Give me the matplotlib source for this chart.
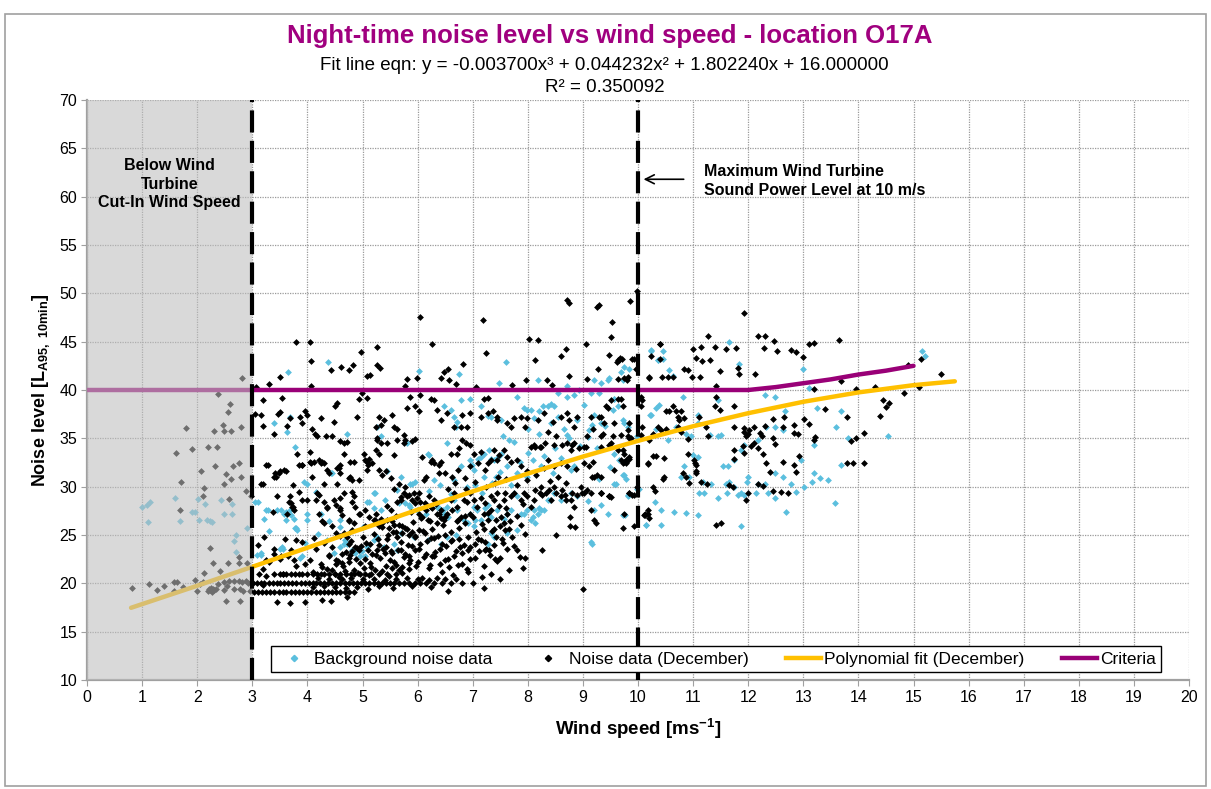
import matplotlib
matplotlib.use("Agg")
import matplotlib.pyplot as plt
from matplotlib.patches import Rectangle
from matplotlib.lines import Line2D

plt.rcParams['font.family'] = ['Liberation Sans', 'DejaVu Sans']
plt.rcParams['mathtext.fontset'] = 'custom'
plt.rcParams['mathtext.rm'] = 'Liberation Sans'
plt.rcParams['mathtext.bf'] = 'Liberation Sans:bold'

# ---- data --------------------------------------------------------------
# noise data (December), wind speed below the 3 m/s cut-in
noise_below_cutin = [
    (2.81, 41.2), (2.38, 39.6), (2.6, 38.6), (2.56, 37.7), (2.47, 36.4), (2.48, 35.8),
    (2.62, 35.8), (2.3, 35.8), (2.79, 36.2), (1.79, 36.1), (1.62, 33.5), (1.9, 33.9),
    (2.19, 34.1), (2.36, 34.1), (2.32, 32.1), (2.65, 32.1), (2.76, 32.5), (2.07, 31.6),
    (2.53, 31.3), (2.61, 30.8), (2.8, 31.0), (2.49, 30.3), (1.71, 30.5), (2.13, 29.9),
    (2.1, 29.0), (1.69, 27.6), (2.57, 28.7), (2.89, 29.6), (2.97, 29.0), (2.24, 23.7),
    (2.28, 22.1), (2.12, 21.1), (2.41, 21.3), (2.56, 22.1), (2.75, 22.7), (2.9, 22.1),
    (2.75, 22.1), (1.58, 20.1), (1.63, 20.1), (1.12, 19.9), (1.27, 19.3), (1.4, 19.7),
    (0.82, 19.5), (1.96, 20.3), (2.05, 19.9), (1.75, 19.6), (1.58, 19.2), (2.21, 19.4),
    (2.25, 19.5), (2.3, 19.3), (2.34, 19.4), (2.27, 19.1), (2.37, 19.9), (2.48, 20.1),
    (2.54, 19.7), (2.66, 19.4), (2.78, 19.4), (2.84, 19.2), (2.96, 19.2), (2.98, 20.1),
    (2.92, 20.0), (2.66, 20.2), (2.75, 20.2), (2.81, 20.1), (2.89, 20.2), (2.48, 19.3),
    (2.57, 20.2), (1.99, 19.2), (2.1, 20.1), (2.53, 18.2), (2.77, 18.2), (2.2, 19.25),
    (2.23, 19.35), (2.28, 19.45),
]

# noise data, 3-10 m/s, above the 40 dB criteria
noise_above_40 = [
    (3.8, 45.0), (4.04, 45.0), (4.07, 43.0), (4.42, 42.1), (4.61, 42.4), (4.76, 42.1),
    (4.83, 42.6), (3.5, 41.3), (4.07, 40.4), (4.98, 43.9), (5.27, 44.4), (5.27, 42.6),
    (5.31, 42.3), (5.08, 41.5), (5.13, 41.6), (6.04, 47.6), (6.27, 44.8), (5.8, 41.1),
    (5.78, 40.4), (5.99, 41.2), (6.42, 41.2), (6.48, 41.9), (6.56, 42.2), (6.57, 41.0),
    (6.69, 40.6), (6.82, 42.7), (7.19, 47.2), (7.25, 43.8), (7.06, 40.3), (7.72, 40.5),
    (7.97, 41.0), (8.03, 45.3), (8.19, 45.2), (8.13, 43.1), (8.35, 41.0), (8.44, 40.5),
    (8.6, 43.5), (8.69, 44.2), (8.72, 49.3), (8.74, 49.0), (8.74, 41.5), (9.05, 44.8),
    (9.08, 41.1), (9.25, 48.6), (9.3, 48.8), (9.27, 42.2), (9.48, 43.6), (9.52, 47.0),
    (9.51, 45.5), (9.63, 43.1), (9.67, 43.3), (9.71, 43.2), (9.64, 41.1), (9.81, 41.3),
    (9.86, 49.2), (9.98, 50.2), (9.9, 43.2), (9.66, 43.1), (9.62, 42.9), (9.75, 41.2),
    (9.8, 41.0), (9.93, 43.2), (9.96, 42.2), (3.06, 40.3), (3.3, 40.6),
]

# noise data, 3-10 m/s, 30-40 dB
noise_30_40 = [
    (3.05, 37.5), (3.15, 37.4), (3.19, 39.0), (3.19, 36.3), (3.39, 35.4), (3.46, 37.5),
    (3.51, 37.7), (3.54, 39.2), (3.63, 36.3), (3.68, 37.1), (3.86, 37.2), (3.9, 36.6),
    (3.96, 37.8), (3.99, 37.4), (4.08, 36.0), (4.13, 35.4), (4.18, 35.2), (4.24, 37.1),
    (4.33, 35.2), (4.45, 35.2), (4.48, 36.7), (4.54, 38.7), (4.5, 38.3), (4.9, 37.2),
    (4.93, 39.1), (5.08, 39.2), (4.99, 39.7), (5.24, 36.2), (5.27, 35.0), (5.33, 36.4),
    (5.39, 36.9), (5.3, 37.2), (5.54, 37.4), (5.57, 36.2), (5.63, 36.0), (5.75, 35.3),
    (5.81, 38.1), (5.87, 39.3), (5.96, 38.3), (6.02, 37.8), (6.05, 39.5), (6.24, 39.1),
    (6.3, 39.0), (6.36, 37.9), (6.42, 36.9), (6.54, 37.6), (6.66, 36.2), (6.78, 36.2),
    (6.9, 36.2), (6.81, 37.4), (6.96, 37.6), (7.15, 37.2), (7.27, 37.6), (7.21, 39.1),
    (7.28, 39.2), (7.37, 37.8), (7.45, 37.2), (7.45, 36.9), (7.63, 36.6), (7.69, 36.2),
    (7.75, 37.1), (7.87, 37.2), (7.95, 36.2), (7.99, 37.1), (8.18, 36.9), (8.3, 37.6),
    (8.36, 35.7), (8.45, 36.7), (8.51, 35.2), (8.6, 37.2), (8.72, 37.6), (8.75, 36.9),
    (8.84, 36.2), (8.9, 37.2), (9.08, 35.2), (9.15, 37.2), (9.18, 36.0), (9.3, 37.2),
    (9.33, 35.2), (9.45, 38.1), (9.63, 39.1), (9.69, 39.1), (9.72, 38.3), (9.81, 35.9),
    (9.84, 35.0), (9.51, 39.0), (9.42, 38.3), (9.33, 37.2), (9.39, 36.6), (9.36, 35.5),
    (9.57, 36.6), (9.84, 36.6), (9.81, 35.2), (9.87, 35.0), (9.54, 35.2), (9.69, 35.3),
    (3.24, 32.2), (3.42, 31.4), (3.51, 31.6), (3.57, 31.7), (3.39, 31.0), (3.15, 30.3),
    (3.81, 33.4), (3.84, 32.2), (3.9, 32.2), (4.05, 33.6), (4.05, 32.6), (4.24, 32.4),
    (4.21, 32.8), (4.08, 31.0), (4.3, 30.3), (4.36, 31.7), (4.54, 31.9), (4.59, 31.4),
    (4.54, 30.3), (4.6, 34.7), (4.66, 34.5), (4.72, 34.6), (4.66, 33.4), (4.78, 32.6),
    (4.81, 30.7), (4.93, 30.7), (5.05, 32.8), (5.1, 32.2), (5.08, 31.7), (5.24, 33.8),
    (5.3, 33.4), (5.27, 34.8), (5.33, 34.5), (5.45, 34.5), (5.57, 33.3), (5.63, 34.8),
    (5.75, 34.5), (5.78, 34.8), (5.9, 34.7), (5.96, 34.9), (6.12, 30.7), (6.15, 31.0),
    (6.24, 32.6), (6.3, 32.4), (6.39, 31.4), (6.42, 32.6), (6.6, 33.4), (6.72, 33.4),
    (6.75, 34.0), (6.81, 34.8), (6.87, 34.5), (6.96, 34.3), (6.96, 32.1), (7.02, 33.4),
    (7.15, 33.6), (7.27, 32.4), (7.33, 32.8), (7.39, 33.8), (7.45, 32.8), (7.48, 33.3),
    (7.57, 33.8), (7.63, 33.1), (7.69, 32.6), (7.81, 32.8), (7.87, 32.1), (7.99, 30.7),
    (8.05, 34.1), (8.12, 34.3), (8.24, 34.1), (8.3, 31.9), (8.36, 32.8), (8.48, 32.1),
    (8.6, 32.4), (8.72, 32.1), (8.78, 33.8), (8.84, 34.5), (9.02, 34.1), (9.18, 32.6),
    (9.21, 31.0), (9.33, 34.1), (9.51, 34.5), (9.63, 33.8), (9.69, 32.8), (9.75, 32.6),
    (9.78, 32.4), (9.48, 34.3), (9.75, 33.4), (9.72, 32.4), (9.78, 32.6), (9.84, 32.9),
    (9.99, 30.0), (3.28, 32.2), (3.43, 31.0), (3.49, 31.4), (3.61, 31.6), (3.19, 30.3),
    (3.73, 30.2), (3.91, 32.2), (4.06, 32.4), (4.12, 32.6), (4.27, 32.6), (4.3, 32.4),
    (4.39, 31.4), (4.57, 31.9), (4.6, 32.2), (4.75, 30.9), (4.78, 31.0), (4.84, 32.6),
    (5.02, 33.4), (5.08, 32.6), (5.11, 32.9), (5.17, 32.4), (5.3, 31.7), (5.36, 31.2),
    (5.42, 31.6), (5.51, 30.9), (5.66, 30.3), (5.78, 30.0), (6.08, 33.1), (6.26, 32.8),
    (6.38, 32.2), (6.5, 31.4), (6.62, 31.0), (6.74, 31.7), (6.86, 30.9), (7.46, 31.0),
    (7.22, 31.7), (7.1, 32.4), (8.13, 34.1), (8.23, 34.1), (8.32, 34.5), (8.47, 34.3),
    (8.62, 34.3), (8.71, 34.5), (8.8, 34.3), (8.93, 34.0), (9.05, 34.1), (9.11, 32.1),
    (9.17, 31.0), (9.26, 31.2), (9.32, 31.0), (9.57, 31.7), (9.78, 32.8), (9.72, 33.8),
    (9.84, 33.1), (8.24, 30.0), (8.96, 30.0),
]

# noise data, 3-10 m/s, below 30 dB (dense cluster)
noise_below_30 = [
    (3.45, 29.0), (3.69, 29.0), (3.72, 27.9), (3.75, 27.6), (3.63, 27.2), (3.99, 28.6),
    (4.18, 29.3), (4.15, 28.6), (4.21, 27.2), (4.36, 27.9), (4.48, 28.6), (4.6, 28.8),
    (4.66, 29.3), (4.81, 29.5), (4.84, 29.0), (4.6, 27.6), (4.75, 26.6), (4.84, 26.2),
    (4.96, 27.2), (5.05, 27.6), (5.21, 26.6), (5.33, 26.7), (5.45, 26.6), (5.51, 27.6),
    (5.63, 28.4), (5.69, 28.6), (5.75, 29.3), (5.81, 29.0), (5.93, 29.3), (5.99, 28.8),
    (6.02, 27.2), (6.08, 26.9), (6.15, 27.6), (6.18, 26.6), (6.24, 27.9), (6.3, 28.6),
    (6.36, 27.2), (6.42, 27.6), (6.48, 26.6), (6.54, 27.2), (6.6, 28.6), (6.66, 29.3),
    (6.72, 27.9), (6.78, 26.9), (6.84, 28.6), (6.9, 28.4), (6.96, 29.3), (7.02, 28.6),
    (7.08, 27.9), (7.15, 28.8), (7.21, 27.2), (7.27, 26.6), (7.33, 27.6), (7.39, 28.6),
    (7.45, 29.3), (7.57, 28.6), (7.63, 27.2), (7.69, 29.0), (7.75, 29.3), (7.87, 28.6),
    (7.93, 29.3), (7.99, 29.0), (8.05, 27.9), (8.12, 28.6), (8.33, 29.3), (8.42, 28.6),
    (8.51, 29.3), (8.6, 29.0), (8.69, 28.6), (8.78, 28.6), (8.84, 27.9), (9.02, 29.3),
    (9.15, 27.6), (9.21, 26.6), (9.33, 29.3), (9.48, 29.0), (9.75, 27.2), (9.84, 29.3),
    (9.93, 25.9), (9.72, 25.7), (9.33, 29.3), (9.48, 29.0), (9.9, 29.1),
    (3.85, 29.5), (3.91, 28.6), (3.67, 28.4), (3.73, 27.9), (3.7, 28.3), (3.37, 27.4),
    (3.22, 24.8), (3.4, 23.6), (3.79, 24.5), (3.76, 22.4), (3.25, 22.4), (3.52, 22.8),
    (3.13, 21.0), (3.19, 19.8), (4.21, 29.1), (4.3, 28.4), (4.36, 27.8), (4.51, 28.1),
    (4.6, 27.8), (4.81, 28.4), (4.87, 27.9), (4.93, 27.2), (4.63, 27.1), (4.75, 26.4),
    (4.27, 26.4), (4.3, 26.2), (4.45, 25.9), (4.51, 25.2), (4.66, 25.2), (4.72, 24.8),
    (4.81, 25.5), (4.93, 23.4), (4.81, 23.3), (4.39, 22.8), (4.51, 22.4), (4.63, 22.1),
    (4.75, 22.2), (4.27, 21.7), (4.45, 21.4), (4.75, 24.1), (4.87, 23.8), (4.12, 24.7),
    (5.57, 29.8), (5.84, 29.1), (5.9, 28.6), (5.96, 28.3), (6.02, 29.3), (5.11, 26.9),
    (5.23, 26.6), (5.3, 25.9), (5.36, 26.2), (5.48, 25.7), (5.54, 26.4), (5.6, 25.3),
    (5.66, 26.0), (5.72, 25.2), (5.78, 25.7), (5.84, 25.0), (5.9, 25.3), (5.96, 24.8),
    (6.02, 25.5), (5.14, 24.1), (5.27, 23.4), (5.42, 23.8), (5.54, 23.1), (5.69, 23.4),
    (5.84, 22.8), (5.96, 23.4), (5.54, 21.6), (5.72, 21.7), (5.84, 22.1), (6.14, 28.3),
    (6.26, 27.8), (6.38, 27.2), (6.5, 26.9), (6.62, 27.6), (6.74, 26.6), (6.86, 26.2),
    (6.95, 27.2), (6.14, 25.2), (6.29, 24.7), (6.44, 24.1), (6.62, 24.5), (6.77, 23.8),
    (6.92, 23.4), (7.04, 24.1), (6.26, 22.8), (6.5, 22.4), (6.74, 21.9), (6.92, 21.2),
    (7.16, 20.7), (7.34, 21.0), (7.22, 23.4), (7.43, 24.8), (7.58, 25.5), (7.52, 26.9),
    (7.22, 28.3), (7.34, 29.0), (7.58, 29.3),
    (3.1, 24.0), (3.2, 21.5), (3.3, 22.2), (3.4, 23.0), (3.5, 22.5), (3.55, 21.0),
    (3.65, 22.8), (3.7, 23.5), (3.8, 21.8), (3.9, 24.3), (3.95, 22.0), (3.6, 24.6),
    (3.25, 20.8), (4.05, 22.4), (4.1, 21.2), (4.15, 23.6), (4.25, 22.0), (4.3, 24.2),
    (4.35, 21.5), (4.4, 22.9), (4.45, 23.8), (4.5, 21.0), (4.55, 22.3), (4.6, 24.9),
    (4.65, 21.8), (4.7, 23.2), (4.75, 22.6), (4.8, 24.4), (4.85, 21.4), (4.9, 23.7),
    (4.95, 22.1), (4.2, 20.6), (4.58, 20.7), (5.0, 24.8), (5.05, 22.5), (5.1, 23.4),
    (5.15, 21.7), (5.2, 25.1), (5.25, 22.9), (5.3, 24.0), (5.35, 21.3), (5.4, 23.1),
    (5.45, 24.6), (5.5, 22.4), (5.55, 25.3), (5.6, 21.9), (5.65, 23.5), (5.7, 24.3),
    (5.75, 22.7), (5.8, 25.6), (5.85, 21.5), (5.9, 23.9), (5.95, 24.9), (5.12, 20.9),
    (5.48, 20.8), (5.72, 21.1), (5.58, 26.0), (5.35, 25.8), (6.0, 22.2), (6.05, 24.1),
    (6.1, 25.4), (6.15, 23.0), (6.2, 21.6), (6.25, 24.7), (6.3, 22.8), (6.35, 26.2),
    (6.4, 23.6), (6.45, 21.2), (6.5, 25.0), (6.55, 22.5), (6.6, 24.4), (6.65, 20.9),
    (6.7, 23.3), (6.75, 25.7), (6.8, 22.0), (6.85, 24.0), (6.9, 21.5), (6.95, 23.8),
    (6.22, 26.5), (6.08, 20.6), (6.42, 26.8), (7.05, 22.6), (7.1, 24.6), (7.2, 21.8),
    (7.3, 23.5), (7.35, 25.4), (7.45, 22.3), (7.55, 24.2), (7.65, 21.4), (7.75, 23.9),
    (7.85, 22.7), (7.95, 25.1), (7.5, 20.5), (8.25, 23.4), (8.52, 25.0), (7.95, 22.6),
    (7.92, 21.6), (7.8, 23.4), (7.62, 23.6), (7.5, 22.6), (7.4, 22.5), (7.25, 23.6),
    (7.15, 24.5), (7.2, 25.6), (9.0, 19.4), (9.23, 26.2), (8.77, 25.9), (8.85, 25.8),
    (7.38, 25.6), (7.5, 25.9), (7.56, 26.2), (7.65, 25.6), (8.13, 29.7), (8.23, 29.3),
    (8.38, 29.7), (8.47, 30.0), (8.62, 29.7), (8.68, 29.1), (8.8, 29.3), (8.9, 29.1),
    (8.99, 29.3), (9.08, 29.7), (9.14, 29.3), (9.51, 28.9), (9.84, 29.3), (9.93, 29.1),
    (8.77, 26.9), (8.26, 29.1), (9.33, 29.3), (9.48, 29.0),
    (3.45, 18.1), (3.68, 18.0), (3.96, 18.1), (4.27, 18.3), (4.42, 18.2), (4.72, 18.6),
]

# more of the dense December cluster between 4.5 and 9 m/s
noise_cluster = [
    (4.52, 22.0), (4.62, 23.0), (4.68, 21.3), (4.78, 22.9), (4.88, 22.5), (4.92, 21.1),
    (4.98, 23.9), (5.02, 21.6), (5.07, 24.2), (5.13, 22.1), (5.18, 23.0), (5.22, 21.4),
    (5.28, 24.6), (5.32, 22.6), (5.38, 23.6), (5.42, 21.8), (5.47, 25.0), (5.52, 23.3),
    (5.57, 22.2), (5.62, 24.8), (5.67, 21.4), (5.71, 25.9), (5.77, 23.0), (5.82, 24.0),
    (5.87, 22.4), (5.92, 26.3), (5.97, 21.8), (6.03, 23.6), (6.07, 26.8), (6.12, 22.7),
    (6.17, 24.4), (6.22, 21.9), (6.27, 25.6), (6.32, 23.2), (6.37, 24.9), (6.41, 22.0),
    (6.46, 26.0), (6.52, 23.9), (6.57, 21.7), (6.61, 25.3), (6.66, 22.8), (6.71, 26.4),
    (6.76, 24.6), (6.81, 23.1), (6.86, 27.0), (6.91, 24.8), (6.96, 22.5), (7.01, 26.9),
    (7.06, 25.3), (7.11, 23.3), (7.17, 26.1), (7.23, 24.3), (7.28, 27.3), (7.32, 22.9),
    (7.38, 24.0), (7.42, 26.6), (7.48, 28.0), (7.53, 24.6), (7.6, 27.8), (7.67, 26.5),
    (7.72, 24.8), (7.8, 27.0), (7.88, 26.0), (7.92, 28.2), (5.05, 25.9), (5.25, 27.2),
    (5.45, 28.0), (5.6, 27.0), (5.7, 28.9), (5.88, 27.4), (6.05, 28.4), (6.2, 29.0),
    (6.33, 28.2), (6.56, 29.8), (6.68, 30.4), (6.88, 29.8), (7.05, 30.5), (7.25, 30.0),
    (7.4, 30.4), (7.6, 30.8), (7.8, 30.2), (7.98, 31.6), (8.15, 31.2), (8.4, 30.6),
    (8.55, 31.0), (8.7, 30.4), (8.88, 31.8), (9.02, 32.5), (4.4, 20.5), (4.62, 20.4),
    (4.8, 20.6), (5.0, 20.4), (5.2, 20.5), (5.4, 20.3), (5.6, 20.5), (5.8, 20.6),
    (6.0, 20.4), (6.2, 20.3), (6.35, 20.6), (6.5, 20.5), (6.7, 20.4), (4.1, 19.6),
    (4.3, 19.7), (4.5, 19.6), (4.7, 19.5), (4.9, 19.6), (5.1, 19.4), (5.3, 19.7),
    (5.55, 19.5), (5.9, 19.7), (6.25, 19.6), (6.55, 19.2), (7.2, 19.5),
]

# noise floor readings that line up in bands
floor_levels = [19.1, 20.0, 21.0]
floor_19_x = [3.03, 3.1, 3.18, 3.25, 3.33, 3.4, 3.48, 3.55, 3.62, 3.7, 3.77, 3.85, 3.92,
              4.0, 4.07, 4.15, 4.22, 4.3, 4.37, 4.45, 4.52, 4.6, 4.68, 4.75, 4.85]
floor_20_x = [3.02, 3.08, 3.15, 3.22, 3.3, 3.38, 3.45, 3.5, 3.58, 3.65, 3.72, 3.8, 3.88,
              3.95, 4.02, 4.1, 4.16, 4.22, 4.3, 4.38, 4.45, 4.52, 4.6, 4.68, 4.75, 4.82,
              4.9, 4.98, 5.05, 5.12, 5.2, 5.28, 5.35, 5.42, 5.5, 5.58, 5.66, 5.75, 5.85,
              5.95, 6.05, 6.15, 6.3, 6.45, 6.6, 6.8, 7.0]
floor_21_x = [3.4, 3.5, 3.55, 3.62, 3.7, 3.78, 3.85, 3.9, 4.0, 4.1, 4.18, 4.25, 4.3, 4.4,
              4.5, 4.6, 4.7, 4.8, 4.85, 4.95, 5.05, 5.15, 5.3, 5.45, 5.6]

# noise data above 10 m/s
noise_above_10 = [
    (11.92, 48.0), (11.27, 45.6), (12.18, 45.6), (12.3, 45.6), (12.47, 45.1), (13.65, 45.2),
    (13.1, 44.8), (13.2, 44.9), (10.4, 44.8), (11.0, 44.2), (11.15, 44.5), (11.4, 44.4),
    (11.6, 44.2), (11.77, 44.3), (12.28, 44.3), (12.52, 44.0), (12.78, 44.1), (12.87, 43.9),
    (13.0, 43.4), (10.24, 43.5), (10.4, 43.2), (11.05, 43.3), (11.3, 43.1), (11.17, 43.0),
    (10.83, 42.2), (10.9, 42.1), (11.48, 42.0), (11.82, 42.3), (15.13, 43.2), (15.5, 41.7),
    (14.9, 42.6), (10.2, 41.3), (10.44, 41.3), (10.54, 41.3), (10.63, 41.3), (10.98, 41.3),
    (11.13, 41.3), (12.13, 41.7), (11.83, 41.7), (13.69, 40.9), (13.95, 40.1), (14.3, 40.3),
    (15.1, 40.3), (13.19, 40.1), (11.42, 40.4), (14.83, 39.7), (14.45, 39.0), (14.55, 38.7),
    (14.5, 38.2), (14.4, 37.3), (14.1, 35.6), (13.95, 35.0), (13.87, 34.7), (13.8, 32.4),
    (13.9, 32.4), (14.1, 32.4), (13.79, 37.2), (13.4, 38.0), (13.2, 34.8), (13.21, 35.1),
    (13.02, 37.0), (13.1, 36.5), (12.9, 35.4), (12.83, 35.6), (12.84, 36.4), (12.65, 37.2),
    (12.45, 37.0), (12.63, 36.2), (12.45, 35.0), (12.49, 34.4), (12.63, 32.6), (12.83, 32.2),
    (12.92, 33.2), (12.86, 31.5), (11.93, 36.1), (12.0, 35.5), (12.02, 35.9), (12.22, 35.6),
    (12.25, 35.2), (12.3, 36.3), (12.11, 34.5), (12.05, 34.2), (11.9, 34.2), (11.75, 33.8),
    (11.74, 32.9), (11.93, 33.5), (12.27, 33.4), (12.33, 32.4), (12.39, 31.5), (12.18, 34.0),
    (11.65, 30.2), (11.72, 30.0), (11.96, 28.6), (12.0, 29.3), (12.27, 30.1), (12.45, 29.6),
    (12.59, 29.4), (12.72, 29.3), (11.42, 26.0), (11.51, 26.2), (10.18, 27.2), (10.1, 27.1),
    (10.2, 26.8), (10.27, 30.0), (10.3, 29.6), (10.45, 30.8), (10.27, 33.2), (10.33, 33.2),
    (10.18, 32.3), (10.48, 33.0), (10.05, 35.3), (10.08, 36.2), (10.2, 34.8), (10.42, 35.9),
    (10.51, 36.0), (10.51, 37.8), (10.57, 37.8), (10.63, 38.3), (10.69, 37.8), (10.73, 37.2),
    (10.78, 37.8), (10.84, 37.1), (10.72, 36.2), (10.78, 35.7), (10.9, 34.9), (10.75, 36.9),
    (10.9, 33.4), (11.05, 32.2), (11.02, 32.8), (11.11, 37.2), (11.27, 35.2), (11.24, 36.2),
    (11.39, 38.3), (11.42, 39.3), (11.48, 37.9), (11.75, 38.3), (11.74, 36.2), (11.96, 35.2),
    (11.93, 35.7), (12.11, 36.2), (10.81, 31.4), (10.87, 31.0), (10.93, 30.4), (11.05, 31.4),
    (11.15, 30.5), (11.25, 30.3), (11.04, 32.5), (11.05, 31.6), (10.48, 31.0), (12.18, 30.3),
    (10.08, 39.0), (10.05, 38.3), (10.12, 27.1), (10.18, 32.4), (10.05, 39.3), (10.27, 35.4),
    (10.36, 36.2), (10.12, 27.2), (10.18, 27.6), (10.2, 41.2), (10.4, 44.8),
]

# background noise data
background_below_cutin = [
    (0.99, 27.9), (1.08, 28.1), (1.15, 28.4), (1.1, 26.3), (1.6, 28.8), (1.68, 26.4),
    (1.9, 27.4), (1.96, 27.4), (2.02, 28.7), (2.15, 28.2), (2.04, 26.6), (2.18, 26.6),
    (2.24, 26.4), (2.27, 26.3), (2.44, 28.6), (2.64, 28.2), (2.48, 27.2), (2.64, 27.2),
    (2.9, 25.7), (2.7, 25.0), (2.66, 24.4), (2.7, 23.2),
]

background_3_10 = [
    (3.39, 36.6), (3.69, 37.2), (3.63, 35.7), (4.72, 35.5), (5.27, 36.2), (5.33, 35.2),
    (6.48, 38.3), (6.6, 37.9), (6.66, 37.2), (6.69, 36.2), (6.72, 36.7), (6.78, 39.0),
    (6.96, 39.1), (7.15, 38.3), (7.27, 37.3), (7.33, 37.2), (7.51, 36.9), (7.81, 39.3),
    (7.93, 38.1), (7.99, 37.9), (8.05, 37.9), (8.12, 37.1), (8.21, 37.8), (8.27, 38.3),
    (8.36, 38.3), (8.42, 38.6), (8.48, 38.3), (8.42, 36.6), (8.54, 39.7), (8.72, 39.3),
    (8.84, 39.5), (8.9, 36.9), (9.02, 38.4), (9.15, 39.7), (9.21, 37.4), (9.3, 39.7),
    (9.33, 36.6), (9.54, 37.9), (9.57, 39.1), (9.63, 38.3), (9.75, 36.6),
    (7.47, 40.7), (7.6, 42.9), (8.18, 41.0), (8.72, 40.4), (9.21, 41.0), (9.33, 40.7),
    (9.45, 41.0), (9.48, 41.2), (9.69, 41.9), (9.75, 42.4), (9.84, 42.2), (6.02, 42.0),
    (6.75, 41.7), (4.37, 42.9), (3.65, 41.9), (8.93, 40.0),
    (3.78, 34.1), (3.93, 30.5), (3.99, 30.3), (4.42, 31.4), (5.45, 31.6), (5.81, 34.5),
    (5.87, 30.3), (6.18, 33.4), (6.3, 30.7), (6.54, 34.5), (6.66, 30.7), (6.78, 32.1),
    (6.96, 32.8), (7.02, 31.7), (7.15, 33.1), (7.21, 33.4), (7.3, 33.8), (7.39, 32.8),
    (7.51, 33.4), (7.63, 32.1), (7.66, 34.8), (7.81, 31.4), (7.99, 31.0), (8.24, 32.1),
    (8.45, 31.4), (8.78, 31.7), (8.84, 32.1), (9.57, 33.4), (9.66, 32.8), (9.99, 29.8),
    (3.05, 28.4), (3.24, 27.6), (3.21, 26.7), (3.45, 27.6), (3.57, 27.2), (3.69, 27.6),
    (3.75, 26.7), (3.78, 25.7), (3.99, 27.2), (4.6, 26.6), (5.08, 28.4), (5.21, 29.3),
    (5.33, 27.6), (5.63, 29.7), (5.87, 27.9), (5.99, 27.6), (6.15, 27.2), (6.36, 27.9),
    (6.42, 27.6), (6.48, 27.2), (6.54, 27.9), (6.66, 28.6), (6.72, 27.6), (6.84, 26.6),
    (6.96, 27.2), (7.02, 27.9), (7.08, 27.6), (7.15, 26.6), (7.27, 27.2), (7.33, 26.9),
    (7.45, 27.6), (7.57, 26.7), (7.63, 27.2), (7.69, 27.6), (7.75, 29.3), (7.81, 29.0),
    (7.87, 27.2), (7.93, 27.2), (7.99, 27.6), (8.05, 26.6), (8.12, 27.6), (8.18, 27.2),
    (8.24, 27.6), (8.36, 28.6), (8.48, 29.3), (8.6, 28.6), (8.78, 29.3), (9.15, 24.3),
    (9.33, 28.1), (9.45, 27.2), (9.81, 29.0),
    (3.08, 22.9), (3.15, 23.1), (3.51, 23.6), (3.54, 23.8), (3.87, 22.6), (3.9, 22.8),
    (4.36, 24.5), (4.48, 23.1), (4.6, 23.8), (4.72, 24.1), (4.84, 23.4), (4.96, 22.8),
    (5.08, 23.8), (5.21, 24.5), (5.27, 24.8), (5.39, 23.8), (5.57, 24.1), (5.69, 25.2),
    (5.63, 23.4), (5.93, 24.8), (6.18, 24.5), (6.42, 24.1), (6.54, 24.8), (6.69, 25.0),
    (7.02, 25.9), (7.27, 24.1), (7.39, 24.8), (7.63, 25.2), (7.81, 25.5),
    (3.1, 28.4), (3.28, 27.6), (3.52, 27.6), (3.61, 27.4), (3.61, 26.6), (3.7, 27.1),
    (3.79, 25.7), (3.82, 25.5), (3.55, 23.6), (3.16, 22.9), (4.0, 26.6), (4.24, 27.2),
    (4.15, 29.5), (4.45, 31.4), (4.66, 24.1), (4.69, 24.5), (4.81, 23.4), (4.87, 23.1),
    (4.99, 23.3), (5.05, 22.8), (5.11, 28.4), (5.23, 29.3), (5.66, 28.3), (5.78, 28.3),
    (5.84, 28.1), (5.9, 30.3), (6.2, 33.3), (6.38, 27.8), (6.47, 27.6), (6.56, 26.9),
    (6.92, 26.2), (7.04, 26.6), (6.98, 32.2), (7.1, 32.9), (7.34, 32.9), (7.46, 33.1),
    (7.16, 29.3), (7.22, 27.8), (7.28, 28.1), (7.34, 25.2), (7.43, 31.0),
    (8.13, 26.2), (8.1, 26.9), (8.29, 27.6), (8.2, 27.8), (8.41, 28.6), (9.17, 24.1),
    (9.2, 27.6), (9.77, 27.1), (8.71, 35.3), (9.11, 35.9), (9.17, 36.4), (9.6, 30.3),
    (9.75, 31.2), (9.84, 29.1), (9.72, 41.0), (9.57, 39.1), (9.72, 36.9), (9.81, 36.2),
    (9.99, 35.2), (9.72, 31.2), (9.78, 30.8), (9.57, 30.3), (9.81, 29.1), (9.72, 27.1),
    (7.05, 30.2), (7.2, 31.0), (7.35, 30.4), (7.5, 31.5), (7.7, 30.2), (7.85, 32.6),
    (8.0, 33.5), (8.1, 32.8), (8.3, 33.2), (8.5, 34.0), (8.6, 33.0), (8.75, 35.0),
    (8.95, 34.2), (9.1, 35.1), (9.25, 34.0), (9.4, 36.3), (7.55, 35.2), (7.75, 34.6),
    (8.0, 36.0), (8.2, 35.5), (8.55, 37.2), (8.65, 36.0), (6.9, 30.0), (6.6, 29.2),
    (6.4, 30.2), (6.2, 29.6), (5.95, 30.5), (5.7, 31.0), (5.4, 28.6), (5.2, 27.8),
    (5.0, 25.8), (4.8, 25.4), (4.6, 25.8), (4.4, 26.5), (4.2, 25.1), (3.95, 24.2),
    (3.3, 25.4), (8.9, 29.0), (9.1, 28.5), (9.3, 30.8), (9.5, 32.0),
]

background_above_10 = [
    (10.24, 44.0), (10.45, 44.0), (10.36, 43.1), (10.45, 43.2), (10.57, 42.1), (10.63, 41.5),
    (10.81, 39.3), (10.33, 38.1), (10.39, 38.4), (10.21, 37.4), (10.33, 36.0), (10.54, 34.8),
    (10.69, 36.2), (10.87, 35.5), (10.96, 35.2), (10.99, 33.3), (11.09, 33.1), (10.84, 32.1),
    (10.93, 31.0), (10.78, 31.0), (11.18, 30.5), (11.33, 30.3), (11.11, 29.3), (11.19, 29.3),
    (11.45, 28.8), (11.6, 30.3), (11.66, 30.5), (11.75, 30.0), (11.62, 29.3), (11.81, 29.1),
    (11.87, 29.3), (11.93, 29.1), (11.99, 31.0), (11.98, 30.5), (12.15, 29.3), (12.18, 30.3),
    (12.3, 30.3), (12.36, 29.3), (12.48, 28.8), (12.48, 31.4), (12.63, 31.0), (12.78, 30.3),
    (12.87, 29.5), (12.69, 27.4), (13.2, 31.4), (13.15, 30.5), (13.3, 30.9), (13.45, 30.7),
    (13.57, 28.3), (13.69, 32.2), (13.81, 35.0), (13.6, 36.2), (13.68, 37.8), (13.2, 34.3),
    (13.24, 38.1), (12.99, 42.2), (13.11, 40.2), (12.3, 39.5), (12.48, 39.3), (12.48, 36.2),
    (12.63, 35.9), (12.66, 37.8), (12.33, 36.2), (12.96, 32.8), (13.02, 30.0), (12.18, 34.8),
    (11.93, 34.3), (11.87, 33.8), (11.75, 32.8), (11.63, 32.1), (11.51, 35.3), (11.45, 35.2),
    (11.3, 35.3), (11.66, 45.0), (11.84, 42.7), (10.66, 27.4), (10.87, 27.3), (11.09, 27.1),
    (10.42, 27.6), (10.3, 28.4), (10.15, 26.0), (10.42, 26.0), (11.87, 25.9), (11.54, 32.1),
    (11.09, 36.6), (11.09, 37.4), (11.45, 39.0), (10.02, 29.8), (10.15, 26.0), (10.24, 37.4),
    (10.24, 44.1), (10.36, 43.1), (15.15, 44.0), (15.2, 43.5), (14.54, 35.2),
]

# fitted polynomial, read at whole wind speeds, and noise criteria
fit_speed = [0.8, 2, 3, 4, 5, 6, 7, 8, 9, 10, 11, 12, 13, 14, 15, 15.75]
fit_level = [17.47, 19.75, 21.71, 23.68, 25.65, 27.61, 29.51, 31.35, 33.11, 34.74,
             36.25, 37.60, 38.78, 39.75, 40.50, 40.90]
criteria_speed = [0, 3, 10, 12, 12.5, 13, 13.5, 14, 14.5, 15]
criteria_level = [40, 40, 40, 40, 40.3, 40.7, 41.1, 41.6, 42.0, 42.5]

cut_in_speed = 3
max_power_speed = 10

# ---- assemble ----------------------------------------------------------
noise_pts = (noise_below_cutin + noise_above_40 + noise_30_40 + noise_below_30
             + noise_cluster
             + [(x, floor_levels[0]) for x in floor_19_x]
             + [(x, floor_levels[1]) for x in floor_20_x]
             + [(x, floor_levels[2]) for x in floor_21_x]
             + noise_above_10)
background_pts = background_below_cutin + background_3_10 + background_above_10

BLUE = '#5BBFDE'
GOLD = '#FFC000'
PURPLE = '#990077'
TITLE = '#A0007F'
GRIDC = '#9a9a9a'

W, H = 1211, 789
fig = plt.figure(figsize=(W / 100, H / 100), dpi=100)
ax = fig.add_axes([87 / W, 1 - 680 / H, 1102 / W, 580 / H])

ax.scatter([p[0] for p in background_pts], [p[1] for p in background_pts],
           marker='D', s=12, color=BLUE, linewidths=0, zorder=2)
ax.scatter([p[0] for p in noise_pts], [p[1] for p in noise_pts],
           marker='D', s=12, color='black', linewidths=0, zorder=2.5)
ax.plot(fit_speed, fit_level, color=GOLD, lw=3.2, solid_capstyle='round', zorder=3)
ax.plot(criteria_speed, criteria_level, color=PURPLE, lw=3.2, solid_capstyle='round', zorder=3.2)

# shaded region below cut-in (drawn over the data so it greys it out)
ax.add_patch(Rectangle((0, 10), cut_in_speed, 60, facecolor=(0.745, 0.745, 0.745),
                       alpha=0.58, edgecolor='none', zorder=4))

for xv in (cut_in_speed, max_power_speed):
    ax.axvline(xv, color='black', lw=3, linestyle=(0, (5.3, 2.0)), zorder=5)

ax.text(1.5, 61.3, 'Below Wind\nTurbine\nCut-In Wind Speed', ha='center', va='center',
        fontsize=11.5, fontweight='bold', linespacing=1.3, zorder=6)
ax.text(11.2, 61.6, 'Maximum Wind Turbine\nSound Power Level at 10 m/s', ha='left',
        va='center', fontsize=11.5, fontweight='bold', linespacing=1.35, zorder=6)
ax.annotate('', xy=(10.05, 61.8), xytext=(10.88, 61.8),
            arrowprops=dict(arrowstyle='->', color='black', lw=1.2, mutation_scale=16),
            zorder=6)

ax.set_xlim(0, 20)
ax.set_ylim(10, 70)
ax.set_xticks(range(0, 21))
ax.set_yticks(range(10, 71, 5))
ax.grid(True, color=GRIDC, linestyle=(0, (1, 1)), lw=0.9, zorder=0)
ax.set_axisbelow(True)
for side in ('top', 'right'):
    ax.spines[side].set_visible(False)
for side in ('left', 'bottom'):
    ax.spines[side].set_color('#a0a0a0')
    ax.spines[side].set_linewidth(1.6)
ax.tick_params(axis='both', direction='out', length=4, color='#a0a0a0',
               labelsize=11.5, pad=3)

ax.set_xlabel(r'Wind speed [ms$^{\mathbf{-1}}$]', fontsize=13.5, fontweight='bold', labelpad=8)
ax.set_ylabel(r'Noise level [L$_{\mathbf{A95,\ 10min}}$]', fontsize=13, fontweight='bold',
              labelpad=5)

fig.text(0.5 * (280 + 940) / W, 1 - 36 / H, 'Night-time noise level vs wind speed - location O17A',
         ha='center', va='center', fontsize=18.5, fontweight='bold', color=TITLE)
fig.text(0.5 * (303 + 906) / W, 1 - 65 / H,
         'Fit line eqn: y = -0.003700x³ + 0.044232x² + 1.802240x + 16.000000',
         ha='center', va='center', fontsize=13.5)
fig.text(0.5 * (303 + 906) / W, 1 - 87 / H, 'R² = 0.350092', ha='center', va='center',
         fontsize=13.5)

handles = [
    Line2D([], [], linestyle='none', marker='D', markersize=3.2, color=BLUE),
    Line2D([], [], linestyle='none', marker='D', markersize=3.2, color='black'),
    Line2D([], [], color=GOLD, lw=3.2),
    Line2D([], [], color=PURPLE, lw=3.2),
]
labels = ['Background noise data', 'Noise data (December)', 'Polynomial fit (December)',
          'Criteria']
leg = ax.legend(handles, labels, ncol=4, loc='lower left', mode='expand',
                bbox_to_anchor=(0.167, 0.014, 0.808, 0.052), borderaxespad=0,
                fontsize=12.5, handlelength=2.0, handletextpad=0.2, columnspacing=1.0,
                frameon=True, fancybox=False, edgecolor='black', framealpha=1,
                borderpad=0.3)
leg.get_frame().set_linewidth(1.0)
leg.set_zorder(10)

# outer chart border
fig.patches.append(Rectangle((5 / W, 1 - 786 / H), 1201 / W, 772 / H, transform=fig.transFigure,
                             fill=False, edgecolor='#a0a0a0', lw=1.2))

fig.savefig('out.png', dpi=100)
